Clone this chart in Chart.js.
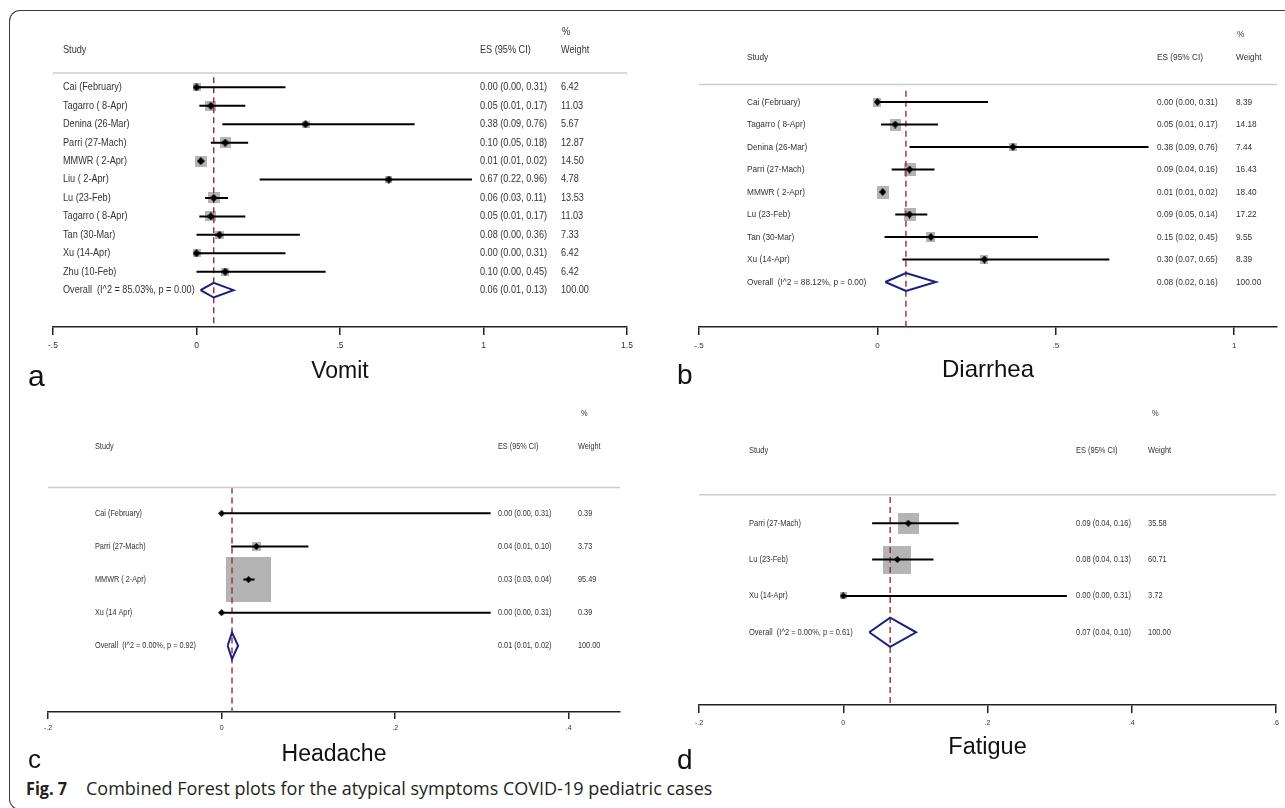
<!DOCTYPE html>
<html><head><meta charset="utf-8">
<script src="https://cdn.jsdelivr.net/npm/chart.js@4.4.1/dist/chart.umd.min.js"></script>
<style>
html,body{margin:0;padding:0;background:#fff;}
body{width:1285px;height:808px;position:relative;overflow:hidden;}
canvas{position:absolute;}
.frame{position:absolute;left:9px;top:10px;width:1320px;height:800px;border-left:1.5px solid #3a3a3a;border-top:1.5px solid #3a3a3a;border-bottom:1.5px solid #3a3a3a;border-radius:11px 0 0 11px;box-sizing:border-box;}
.letter{position:absolute;font-family:'Liberation Sans',Arial,sans-serif;color:#111;line-height:1;white-space:nowrap;}
.cap{position:absolute;top:779px;font-family:'Open Sans',sans-serif;font-size:18px;line-height:1;color:#231f20;white-space:nowrap;transform-origin:left top;}
</style></head><body>
<div class="frame"></div>
<canvas id="cA" width="640" height="400" style="left:0;top:0"></canvas>
<canvas id="cB" width="645" height="400" style="left:640px;top:0"></canvas>
<canvas id="cC" width="640" height="370" style="left:0;top:400px"></canvas>
<canvas id="cD" width="645" height="370" style="left:640px;top:400px"></canvas>
<div class="letter" style="left:28px;top:361px;font-size:30px;">a</div>
<div class="letter" style="left:677px;top:361px;font-size:28px;">b</div>
<div class="letter" style="left:28px;top:746px;font-size:26px;">c</div>
<div class="letter" style="left:677px;top:746px;font-size:28px;">d</div>
<div class="cap" style="left:26px;font-weight:700;transform:scaleX(0.9);">Fig. 7</div>
<div class="cap" style="left:86px;">Combined Forest plots for the atypical symptoms COVID-19 pediatric cases</div>
<script>
// ---------- Panel a: Vomit ----------
const vomitStudies = ['Cai (February)','Tagarro ( 8-Apr)','Denina (26-Mar)','Parri (27-Mach)','MMWR ( 2-Apr)','Liu ( 2-Apr)','Lu (23-Feb)','Tagarro ( 8-Apr)','Tan (30-Mar)','Xu (14-Apr)','Zhu (10-Feb)'];
const vomitES   = [0.00,0.05,0.38,0.10,0.015,0.67,0.06,0.05,0.08,0.00,0.10];
const vomitLow  = [0.00,0.01,0.09,0.05,0.01,0.22,0.03,0.01,0.00,0.00,0.00];
const vomitHigh = [0.31,0.17,0.76,0.18,0.02,0.96,0.11,0.17,0.36,0.31,0.45];
const vomitWeight = [6.42,11.03,5.67,12.87,14.50,4.78,13.53,11.03,7.33,6.42,6.42];
const vomitESLabels = ['0.00 (0.00, 0.31)','0.05 (0.01, 0.17)','0.38 (0.09, 0.76)','0.10 (0.05, 0.18)','0.01 (0.01, 0.02)','0.67 (0.22, 0.96)','0.06 (0.03, 0.11)','0.05 (0.01, 0.17)','0.08 (0.00, 0.36)','0.00 (0.00, 0.31)','0.10 (0.00, 0.45)'];
const vomitOverall = [0.06, 0.014, 0.129];
const vomitOverallLabel = 'Overall  (I^2 = 85.03%, p = 0.00)';
const vomitOverallES = '0.06 (0.01, 0.13)';
const vomitTicks = [-0.5, 0, 0.5, 1, 1.5];

// ---------- Panel b: Diarrhea ----------
const diarrheaStudies = ['Cai (February)','Tagarro ( 8-Apr)','Denina (26-Mar)','Parri (27-Mach)','MMWR ( 2-Apr)','Lu (23-Feb)','Tan (30-Mar)','Xu (14-Apr)'];
const diarrheaES   = [0.00,0.05,0.38,0.09,0.015,0.09,0.15,0.30];
const diarrheaLow  = [0.00,0.01,0.09,0.04,0.01,0.05,0.02,0.07];
const diarrheaHigh = [0.31,0.17,0.76,0.16,0.02,0.14,0.45,0.65];
const diarrheaWeight = [8.39,14.18,7.44,16.43,18.40,17.22,9.55,8.39];
const diarrheaESLabels = ['0.00 (0.00, 0.31)','0.05 (0.01, 0.17)','0.38 (0.09, 0.76)','0.09 (0.04, 0.16)','0.01 (0.01, 0.02)','0.09 (0.05, 0.14)','0.15 (0.02, 0.45)','0.30 (0.07, 0.65)'];
const diarrheaOverall = [0.08, 0.022, 0.164];
const diarrheaOverallLabel = 'Overall  (I^2 = 88.12%, p = 0.00)';
const diarrheaOverallES = '0.08 (0.02, 0.16)';
const diarrheaTicks = [-0.5, 0, 0.5, 1];

// ---------- Panel c: Headache ----------
const headacheStudies = ['Cai (February)','Parri (27-Mach)','MMWR ( 2-Apr)','Xu (14 Apr)'];
const headacheES   = [0.00,0.04,0.031,0.00];
const headacheLow  = [0.00,0.011,0.025,0.00];
const headacheHigh = [0.31,0.10,0.038,0.31];
const headacheWeight = [0.39,3.73,95.49,0.39];
const headacheESLabels = ['0.00 (0.00, 0.31)','0.04 (0.01, 0.10)','0.03 (0.03, 0.04)','0.00 (0.00, 0.31)'];
const headacheOverall = [0.012, 0.007, 0.019];
const headacheOverallLabel = 'Overall  (I^2 = 0.00%, p = 0.92)';
const headacheOverallES = '0.01 (0.01, 0.02)';
const headacheTicks = [-0.2, 0, 0.2, 0.4];

// ---------- Panel d: Fatigue ----------
const fatigueStudies = ['Parri (27-Mach)','Lu (23-Feb)','Xu (14-Apr)'];
const fatigueES   = [0.09,0.075,0.00];
const fatigueLow  = [0.04,0.04,0.00];
const fatigueHigh = [0.16,0.125,0.31];
const fatigueWeight = [35.58,60.71,3.72];
const fatigueESLabels = ['0.09 (0.04, 0.16)','0.08 (0.04, 0.13)','0.00 (0.00, 0.31)'];
const fatigueOverall = [0.065, 0.036, 0.101];
const fatigueOverallLabel = 'Overall  (I^2 = 0.00%, p = 0.61)';
const fatigueOverallES = '0.07 (0.04, 0.10)';
const fatigueTicks = [-0.2, 0, 0.2, 0.4, 0.6];

const FONT = '"Liberation Sans", Arial, Helvetica, sans-serif';

function stataFmt(v){
  if (Math.abs(v) < 1e-9) return '0';
  let s = String(Math.round(v*100)/100);
  return s.replace(/^0\./,'.').replace(/^-0\./,'-.');
}
function rectImg(w,h,color){
  const c = document.createElement('canvas');
  c.width = Math.max(1, Math.round(w)); c.height = Math.max(1, Math.round(h));
  const x = c.getContext('2d'); x.fillStyle = color; x.fillRect(0,0,c.width,c.height);
  return c;
}
function diamondImg(w,h,color){
  const c = document.createElement('canvas');
  c.width = Math.round(w); c.height = Math.round(h);
  const x = c.getContext('2d'); x.fillStyle = color;
  x.beginPath(); x.moveTo(c.width/2,0); x.lineTo(c.width,c.height/2); x.lineTo(c.width/2,c.height); x.lineTo(0,c.height/2); x.closePath(); x.fill();
  return c;
}

function makeForest(id, d, L){
  const n = d.studies.length;
  const boxData = d.studies.map((s,i)=>({x:d.es[i], y:i}));
  const boxImgs = d.weight.map(w => rectImg(L.kw*Math.sqrt(w), L.kh*Math.sqrt(w), '#b4b4b4'));
  const mark = diamondImg(L.mw, L.mh, '#000');
  const ciData = [];
  d.studies.forEach((s,i)=>{ ciData.push({x:d.lo[i],y:i},{x:d.hi[i],y:i},{x:null,y:null}); });
  const ov = d.overall;
  const diamond = [{x:ov[1],y:n},{x:ov[0],y:n-0.4},{x:ov[2],y:n},{x:ov[0],y:n+0.4},{x:ov[1],y:n}];
  const dash = [{x:ov[0],y:L.dashTop},{x:ov[0],y:n+2}];

  const textPlugin = {
    id:'forestText',
    afterDraw(chart){
      const ctx = chart.ctx, ys = chart.scales.y, ca = chart.chartArea;
      ctx.save();
      ctx.strokeStyle = '#cccccc'; ctx.lineWidth = 1.5;
      const gy = ys.getPixelForValue(-0.78);
      ctx.beginPath(); ctx.moveTo(ca.left, gy); ctx.lineTo(ca.right, gy); ctx.stroke();
      ctx.fillStyle = '#333'; ctx.textBaseline = 'middle'; ctx.textAlign = 'left';
      ctx.font = L.fs + 'px ' + FONT;
      const put = (t,x,v)=>{ ctx.save(); ctx.translate(x, ys.getPixelForValue(v)); ctx.scale(L.sx,1); ctx.fillText(t,0,0); ctx.restore(); };
      put('%', L.colPct, -3);
      put('Study', L.colStudy, -2);
      put('ES (95% CI)', L.colES, -2);
      put('Weight', L.colW, -2);
      d.studies.forEach((s,i)=>{
        put(s, L.colStudy, i);
        put(d.esLabels[i], L.colES, i);
        put(d.weight[i].toFixed(2), L.colW, i);
      });
      put(d.overallLabel, L.colStudy, n);
      put(d.overallES, L.colES, n);
      put((100).toFixed(2), L.colW, n);
      ctx.fillStyle = '#111'; ctx.textAlign = 'center';
      ctx.font = L.titleSize + 'px ' + FONT;
      ctx.fillText(d.title, (ca.left+ca.right)/2, L.titleY);
      ctx.restore();
    }
  };

  return new Chart(document.getElementById(id), {
    type:'scatter',
    data:{datasets:[
      {data:boxData, pointStyle:boxImgs, pointRadius:5, backgroundColor:'#b4b4b4', borderWidth:0, order:5},
      {data:dash, showLine:true, borderColor:'#9a2a3a', borderWidth:1.4, borderDash:[6,4], pointRadius:0, order:4},
      {data:ciData, showLine:true, spanGaps:false, borderColor:'#000', borderWidth:2, pointRadius:0, order:3},
      {data:boxData, pointStyle:mark, pointRadius:5, backgroundColor:'#000', borderWidth:0, order:2},
      {data:diamond, showLine:true, borderColor:'#1b1f7e', borderWidth:2, borderJoinStyle:'miter', pointRadius:0, fill:false, order:1}
    ]},
    options:{
      responsive:false, animation:false, events:[],
      layout:{autoPadding:false, padding:{left:L.padL, right:L.padR, top:L.padT, bottom:0}},
      plugins:{legend:{display:false}, tooltip:{enabled:false}},
      scales:{
        x:{type:'linear', position:'bottom', min:L.xMin, max:L.xMax,
          afterBuildTicks:(s)=>{ s.ticks = d.ticks.map(v=>({value:v})); },
          afterFit:(s)=>{ s.height = L.canvasH - L.axisY; },
          grid:{drawOnChartArea:false, drawTicks:true, tickLength:L.tl, color:'#222', lineWidth:1.5},
          border:{display:true, color:'#222', width:1.5},
          ticks:{font:{size:L.tfs, family:FONT}, color:'#333', padding:L.tpad, maxRotation:0, autoSkip:false, callback:(v)=>stataFmt(v)},
          title:{display:false}
        },
        y:{type:'linear', reverse:true, min:-3.3, max:n+2, display:false}
      }
    },
    plugins:[textPlugin]
  });
}

makeForest('cA', {studies:vomitStudies, es:vomitES, lo:vomitLow, hi:vomitHigh, weight:vomitWeight, esLabels:vomitESLabels, overall:vomitOverall, overallLabel:vomitOverallLabel, overallES:vomitOverallES, ticks:vomitTicks, title:'Vomit'},
  {padL:53, padR:13, padT:26.5, axisY:327, canvasH:400, xMin:-0.5, xMax:1.5, kw:3.2, kh:3.0, mw:7.5, mh:7.5, dashTop:-0.55,
   fs:10.5, sx:0.87, colStudy:63, colES:480, colW:561, colPct:562, tl:8, tfs:8.5, tpad:6, titleSize:23, titleY:372});

makeForest('cB', {studies:diarrheaStudies, es:diarrheaES, lo:diarrheaLow, hi:diarrheaHigh, weight:diarrheaWeight, esLabels:diarrheaESLabels, overall:diarrheaOverall, overallLabel:diarrheaOverallLabel, overallES:diarrheaOverallES, ticks:diarrheaTicks, title:'Diarrhea'},
  {padL:59, padR:8, padT:27.75, axisY:327, canvasH:400, xMin:-0.5, xMax:1.12, kw:2.85, kh:3.1, mw:7, mh:7.5, dashTop:-0.5,
   fs:9.3, sx:0.89, colStudy:107, colES:517, colW:596, colPct:597, tl:8, tfs:8, tpad:5.5, titleSize:24, titleY:370});

makeForest('cC', {studies:headacheStudies, es:headacheES, lo:headacheLow, hi:headacheHigh, weight:headacheWeight, esLabels:headacheESLabels, overall:headacheOverall, overallLabel:headacheOverallLabel, overallES:headacheOverallES, ticks:headacheTicks, title:'Headache'},
  {padL:48, padR:20, padT:4.1, axisY:312, canvasH:370, xMin:-0.2, xMax:0.459, kw:4.64, kh:4.6, mw:6.7, mh:6.7, dashTop:-0.78,
   fs:8.4, sx:0.87, colStudy:95, colES:498, colW:578, colPct:581, tl:7, tfs:7, tpad:5, titleSize:23, titleY:355});

makeForest('cD', {studies:fatigueStudies, es:fatigueES, lo:fatigueLow, hi:fatigueHigh, weight:fatigueWeight, esLabels:fatigueESLabels, overall:fatigueOverall, overallLabel:fatigueOverallLabel, overallES:fatigueOverallES, ticks:fatigueTicks, title:'Fatigue'},
  {padL:59, padR:8, padT:3.2, axisY:305, canvasH:370, xMin:-0.2, xMax:0.6, kw:3.6, kh:3.55, mw:6.7, mh:6.7, dashTop:-0.72,
   fs:8.5, sx:0.88, colStudy:109, colES:436, colW:508, colPct:512, tl:8, tfs:7, tpad:6, titleSize:23.5, titleY:348});
</script>
</body></html>
